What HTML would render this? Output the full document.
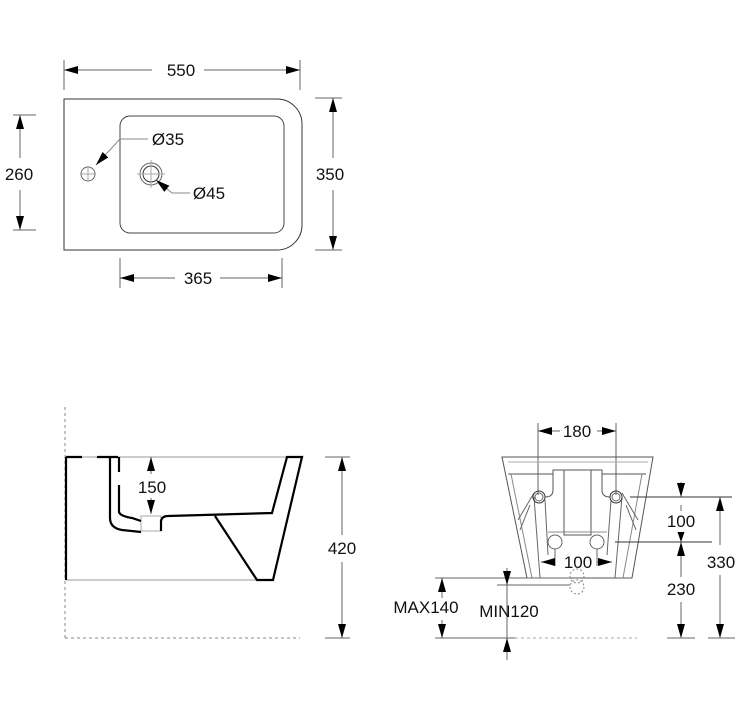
<!DOCTYPE html>
<html><head><style>html,body{margin:0;padding:0;background:#fff}svg{display:block}text{font-family:"Liberation Sans",Arial,sans-serif;font-size:17px;fill:#111}</style></head>
<body>
<svg width="750" height="710" viewBox="0 0 750 710" xmlns="http://www.w3.org/2000/svg">
<defs>
<marker id="a" viewBox="0 0 10 10" refX="10" refY="5" markerWidth="10" markerHeight="10" markerUnits="userSpaceOnUse" orient="auto-start-reverse"><path d="M0,1.5 L10,5 L0,8.5z" fill="#000"/></marker>
<marker id="b" viewBox="0 0 14 10" refX="14" refY="5" markerWidth="14" markerHeight="10" markerUnits="userSpaceOnUse" orient="auto-start-reverse"><path d="M0,1 L14,5 L0,9z" fill="#000"/></marker>
</defs>
<g fill="none" stroke="#666" stroke-width="1">
<line x1="64" y1="60" x2="64" y2="90"/><line x1="300" y1="60" x2="300" y2="90"/>
<line x1="64" y1="70" x2="152" y2="70" marker-start="url(#b)"/><line x1="204" y1="70" x2="300" y2="70" marker-end="url(#b)"/>
<path d="M64,99 H277 A25,25 0 0 1 302,124 V225 A25,25 0 0 1 277,250 H64 Z" stroke="#333"/>
<rect x="120" y="116" width="164" height="117" rx="10" stroke="#444"/>
<circle cx="88" cy="174" r="7"/><circle cx="151" cy="174" r="11"/><circle cx="151" cy="174" r="8" stroke="#333"/>
<line x1="80" y1="174" x2="96" y2="174" stroke="#aaa"/><line x1="88" y1="166" x2="88" y2="182" stroke="#aaa"/>
<line x1="137" y1="174" x2="165" y2="174" stroke="#aaa"/><line x1="151" y1="160" x2="151" y2="188" stroke="#aaa"/>
<polyline points="148,139 120,139 96,165" marker-end="url(#b)" stroke="#888"/>
<polyline points="190,193 172,193 156,180" marker-end="url(#b)" stroke="#888"/>
<line x1="13" y1="115" x2="36" y2="115"/><line x1="13" y1="230" x2="36" y2="230"/>
<line x1="20" y1="115" x2="20" y2="158" marker-start="url(#b)"/><line x1="20" y1="190" x2="20" y2="230" marker-end="url(#b)"/>
<line x1="315" y1="98" x2="342" y2="98"/><line x1="315" y1="250" x2="342" y2="250"/>
<line x1="333" y1="98" x2="333" y2="158" marker-start="url(#b)"/><line x1="333" y1="190" x2="333" y2="250" marker-end="url(#b)"/>
<line x1="120" y1="258" x2="120" y2="288"/><line x1="282" y1="258" x2="282" y2="288"/>
<line x1="120" y1="278" x2="175" y2="278" marker-start="url(#b)"/><line x1="220" y1="278" x2="282" y2="278" marker-end="url(#b)"/>

<line x1="65" y1="407" x2="65" y2="638" stroke-dasharray="3,3" stroke="#888"/>
<line x1="65" y1="638" x2="300" y2="638" stroke-dasharray="3,3" stroke="#888"/>
<line x1="65" y1="457" x2="302" y2="457" stroke="#999"/>
<line x1="66" y1="580" x2="257" y2="580" stroke="#999"/>
<line x1="325" y1="457" x2="350" y2="457"/><line x1="325" y1="638" x2="350" y2="638"/>
<line x1="342" y1="457" x2="342" y2="535" marker-start="url(#b)"/><line x1="342" y1="562" x2="342" y2="638" marker-end="url(#b)"/>
<line x1="151" y1="457" x2="151" y2="474" marker-start="url(#b)"/><line x1="151" y1="498" x2="151" y2="514" marker-end="url(#b)"/>
<rect x="141" y="516" width="20" height="15" stroke="#aaa"/>

<line x1="538" y1="423" x2="538" y2="495"/><line x1="616" y1="423" x2="616" y2="495"/>
<line x1="538" y1="431" x2="560" y2="431" marker-start="url(#b)"/><line x1="597" y1="431" x2="616" y2="431" marker-end="url(#b)"/>
<path d="M502,457 H653 L632,578 H527 Z" stroke="#555"/>
<path d="M508,462 H648" stroke="#aaa"/>
<path d="M508,474 H553 V470 H602 V474 H646" stroke="#555"/>
<path d="M511,474 L532,578 M642,474 L623,578" stroke="#888"/>
<rect x="564" y="470" width="27" height="65" stroke="#555"/>
<path d="M553,474 V490 Q553,497 545,497 M602,474 V490 Q602,497 610,497" stroke="#555"/>
<path d="M534,497 L540,578 M545,500 L548,555 M611,500 L607,555 M622,497 L615,578 M518,520 L534,493 M638,520 L622,493 M520,530 L530,505 M636,530 L626,505" stroke="#666"/>
<line x1="548" y1="532" x2="607" y2="532" stroke="#888"/>
<circle cx="539" cy="497" r="6" stroke="#333"/><circle cx="539" cy="497" r="4"/>
<circle cx="616" cy="497" r="6" stroke="#333"/><circle cx="616" cy="497" r="4"/>
<circle cx="555" cy="542" r="7"/><circle cx="597" cy="542" r="7"/>
<line x1="555" y1="549" x2="555" y2="566"/><line x1="597" y1="549" x2="597" y2="566"/>
<line x1="541" y1="562" x2="555" y2="562" marker-start="url(#b)"/><line x1="597" y1="562" x2="612" y2="562" marker-end="url(#b)"/>
<circle cx="577" cy="576" r="7" stroke-dasharray="2,2" stroke="#888"/>
<circle cx="577" cy="587" r="7" stroke-dasharray="2,2" stroke="#888"/>
<line x1="630" y1="497" x2="732" y2="497" stroke="#333"/><line x1="615" y1="542" x2="712" y2="542" stroke="#333"/>
<line x1="681" y1="482" x2="681" y2="497" marker-end="url(#b)"/><line x1="681" y1="505" x2="681" y2="511"/>
<line x1="681" y1="532" x2="681" y2="542" marker-end="url(#a)"/>
<line x1="681" y1="542" x2="681" y2="577" marker-start="url(#b)"/><line x1="681" y1="602" x2="681" y2="638" marker-end="url(#b)"/>
<line x1="720" y1="497" x2="720" y2="545" marker-start="url(#b)"/><line x1="720" y1="575" x2="720" y2="638" marker-end="url(#b)"/>
<line x1="667" y1="638" x2="695" y2="638"/><line x1="708" y1="638" x2="735" y2="638"/>
<line x1="435" y1="578" x2="570" y2="578"/><line x1="497" y1="585" x2="570" y2="585"/>
<line x1="435" y1="638" x2="515" y2="638"/>
<line x1="515" y1="638" x2="637" y2="638" stroke-dasharray="3,3" stroke="#aaa"/>
<line x1="442" y1="578" x2="442" y2="598" marker-start="url(#b)"/><line x1="442" y1="620" x2="442" y2="638" marker-end="url(#b)"/>
<line x1="507" y1="568" x2="507" y2="585" marker-end="url(#b)"/><line x1="507" y1="585" x2="507" y2="660"/>
<line x1="507" y1="660" x2="507" y2="638" marker-end="url(#b)"/>
</g>
<g fill="none" stroke="#000" stroke-width="2.2">
<line x1="66" y1="457" x2="66" y2="580"/>
<path d="M66,457 H82 M97,457 H118"/>
<path d="M110,457 V518 Q110,528 122,530 L141,532"/>
<path d="M119,457 V472 M119,485 V512 Q120,516 132,518 L141,521"/>
<path d="M161,531 V521 Q162,516 168,516 L272,513 L287,457 H302 L273,580 H257 L215,516"/>
</g>
<g text-anchor="middle">
<text x="181" y="76">550</text>
<text x="19" y="180">260</text>
<text x="330" y="180">350</text>
<text x="198" y="284">365</text>
<text x="168" y="145">Ø35</text>
<text x="209" y="199">Ø45</text>
<text x="152" y="493">150</text>
<text x="342" y="554">420</text>
<text x="577" y="437">180</text>
<text x="578" y="568">100</text>
<text x="681" y="527">100</text>
<text x="681" y="595">230</text>
<text x="721" y="568">330</text>
<text x="426" y="613">MAX140</text>
<text x="509" y="617">MIN120</text>
</g>
</svg>
</body></html>
